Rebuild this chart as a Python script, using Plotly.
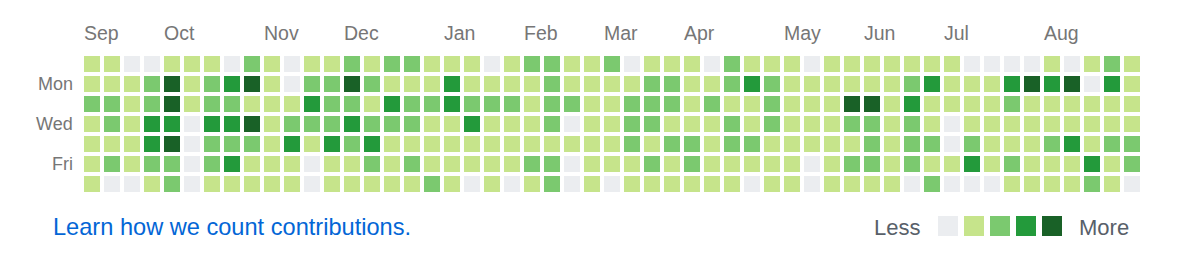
import plotly.graph_objects as go

# ---- data -------------------------------------------------------------
weekdays = ["Sun", "Mon", "Tue", "Wed", "Thu", "Fri", "Sat"]
day_labels = ["", "Mon", "", "Wed", "", "Fri", ""]

sun = [1,1,0,0,1,1,1,0,2,1,0,1,1, 2,1,2,2,1,1,1,0,1,2,2,1,1, 2,0,1,1,1,0,2,1,1,1,0,1,1, 1,1,1,1,1,0,0,0,0,1,0,1,2,1]
mon = [1,1,1,2,4,1,2,3,4,1,0,2,2, 4,2,1,1,1,3,1,1,1,1,2,1,1, 1,1,2,2,1,1,2,3,2,1,1,1,1, 1,1,2,3,1,1,1,3,4,3,4,0,3,1]
tue = [2,2,1,2,4,1,2,2,1,1,1,3,2, 2,1,3,2,2,3,2,2,2,1,2,2,1, 1,2,2,2,1,2,1,1,2,1,1,1,4, 4,1,3,1,1,1,1,2,1,1,1,1,1,1]
wed = [1,2,1,3,3,0,3,3,4,1,2,2,2, 3,2,2,2,1,1,3,1,1,1,2,0,1, 1,2,2,1,1,1,2,1,2,1,1,1,2, 2,1,2,1,0,1,1,1,1,1,1,1,1,1]
thu = [1,1,1,3,4,0,2,2,2,1,3,1,3, 2,3,1,1,1,1,1,1,1,1,1,1,1, 1,2,1,2,2,1,2,2,1,1,1,1,1, 2,1,2,2,0,2,1,1,1,2,3,1,2,2]
fri = [1,2,1,2,2,0,2,3,1,1,1,0,1, 1,2,1,2,1,1,1,1,1,2,2,0,1, 1,1,2,1,2,1,1,1,1,1,0,1,2, 2,1,2,1,1,3,1,2,1,1,1,3,1,2]
sat = [1,0,0,1,2,0,1,1,1,1,1,0,1, 1,1,1,1,2,1,0,1,0,1,2,0,1, 0,1,1,1,1,1,1,0,1,1,0,1,1, 1,1,0,2,0,0,0,1,1,1,1,2,1,0]

months = ["Sep", "Oct", "Nov", "Dec", "Jan", "Feb", "Mar", "Apr", "May", "Jun", "Jul", "Aug"]
month_start_week = [0, 4, 9, 13, 18, 22, 26, 30, 35, 39, 43, 48]

legend_levels = [0, 1, 2, 3, 4]
palette = ["#ebedf0", "#c6e48b", "#7bc96f", "#239a3b", "#196127"]

# ---- layout constants --------------------------------------------------
W, H = 1180, 260
FONT = "Liberation Sans, Arial, Helvetica, sans-serif"
grid = [sun, mon, tue, wed, thu, fri, sat]
n_weeks = len(sun)

def px_x(p):
    return p / W

def px_y(p):
    return 1 - p / H

fig = go.Figure()

colorscale = [[i / (len(palette) - 1), c] for i, c in enumerate(palette)]

fig.add_trace(go.Heatmap(
    z=grid,
    x=list(range(n_weeks)),
    y=list(range(len(weekdays))),
    zmin=0, zmax=4,
    colorscale=colorscale,
    showscale=False,
    xgap=4, ygap=4,
    hoverinfo="skip",
))

# legend squares (Less ... More) drawn as square markers in data space
leg_x0, leg_pitch = (948 - 92) / 20, 26 / 20
leg_y = (226 - 64) / 20
fig.add_trace(go.Scatter(
    x=[leg_x0 + i * leg_pitch for i in range(len(legend_levels))],
    y=[leg_y] * len(legend_levels),
    mode="markers",
    marker=dict(symbol="square", size=20, color=[palette[l] for l in legend_levels],
                line=dict(width=0)),
    hoverinfo="skip",
    showlegend=False,
))

annotations = []
for m, wk in zip(months, month_start_week):
    annotations.append(dict(
        x=wk - 0.5, xref="x", y=px_y(33), yref="paper",
        text=m, showarrow=False, xanchor="left", yanchor="middle",
        font=dict(family=FONT, size=19.5, color="#767676"),
    ))
for r, lab in enumerate(day_labels):
    if lab:
        annotations.append(dict(
            x=px_x(74.5), xref="paper", y=r, yref="y",
            text=lab, showarrow=False, xanchor="right", yanchor="middle",
            font=dict(family=FONT, size=18, color="#767676"),
        ))
annotations.append(dict(
    x=px_x(51), xref="paper", y=px_y(227), yref="paper",
    text="Learn how we count contributions.", showarrow=False,
    xanchor="left", yanchor="middle",
    font=dict(family=FONT, size=23.6, color="#0366d6"),
))
annotations.append(dict(
    x=px_x(922), xref="paper", y=px_y(227), yref="paper",
    text="Less", showarrow=False, xanchor="right", yanchor="middle",
    font=dict(family=FONT, size=22, color="#586069"),
))
annotations.append(dict(
    x=px_x(1077), xref="paper", y=px_y(227), yref="paper",
    text="More", showarrow=False, xanchor="left", yanchor="middle",
    font=dict(family=FONT, size=22, color="#586069"),
))

fig.update_layout(
    width=W, height=H,
    margin=dict(l=0, r=0, t=0, b=0),
    paper_bgcolor="white", plot_bgcolor="white",
    xaxis=dict(range=[-4.6, 54.4], visible=False, fixedrange=True),
    yaxis=dict(range=[9.8, -3.2], visible=False, fixedrange=True),
    showlegend=False,
    annotations=annotations,
)

fig.write_html("out.html", config={"displayModeBar": False})
